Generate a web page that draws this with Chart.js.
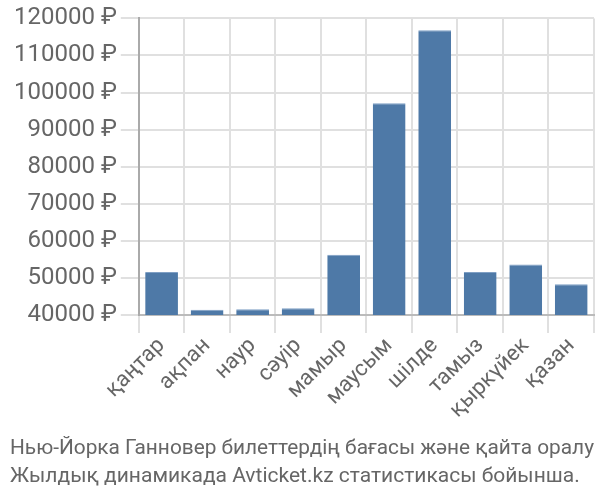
<!DOCTYPE html>
<html>
<head>
<meta charset="utf-8">
<script src="https://cdn.jsdelivr.net/npm/chart.js@4.4.0/dist/chart.umd.min.js"></script>
<style>
  body { margin: 0; background: #fff; }
</style>
</head>
<body>
<canvas id="myChart" width="600" height="500"></canvas>
<script>
const months = ['қаңтар', 'ақпан', 'наур', 'сәуір', 'мамыр', 'маусым', 'шілде', 'тамыз', 'қыркүйек', 'қазан'];
const prices = [51600, 41400, 41500, 41800, 56200, 97100, 116800, 51600, 53600, 48300];
const titleLines = [
    'Нью-Йорка Ганновер билеттердің бағасы және қайта оралу',
    'Жылдық динамикада Avticket.kz статистикасы бойынша.'
];

const ctx = document.getElementById('myChart').getContext('2d');

const myChart = new Chart(ctx, {
    type: 'bar',
    data: {
        labels: months,
        datasets: [{
            data: prices,
            backgroundColor: '#4e79a7',
            borderColor: '#7f9fc4',
            borderWidth: { top: 1, left: 0, right: 0, bottom: 0 },
        }]
    },
    options: {
        responsive: false,
        animation: false,
        layout: { padding: { top: 2, right: 6, left: 10, bottom: 0 } },
        plugins: {
            legend: { display: false },
            tooltip: { enabled: false },
            title: {
                display: true,
                text: titleLines,
                position: 'bottom',
                align: 'start',
                color: '#666',
                font: { family: 'Roboto', size: 21, weight: 'normal', lineHeight: 1.3 },
                padding: { top: 12, bottom: 10 },
            },
        },
        scales: {
            x: {
                grid: { color: '#e0e0e0', lineWidth: 2, tickLength: 18 },
                border: { color: '#bbb', width: 2 },
                ticks: {
                    color: '#666',
                    font: { family: 'Roboto', size: 22 },
                    maxRotation: 45,
                    minRotation: 45,
                    autoSkip: false,
                    padding: 0,
                },
            },
            y: {
                min: 40000,
                max: 120000,
                grid: { color: '#e0e0e0', lineWidth: 2, tickLength: 18 },
                border: { color: '#aaa', width: 2 },
                ticks: {
                    stepSize: 10000,
                    color: '#666',
                    font: { family: 'Roboto', size: 24 },
                    padding: 4,
                    callback: v => v + ' ₽',
                },
            },
        },
    },
});
</script>
</body>
</html>
